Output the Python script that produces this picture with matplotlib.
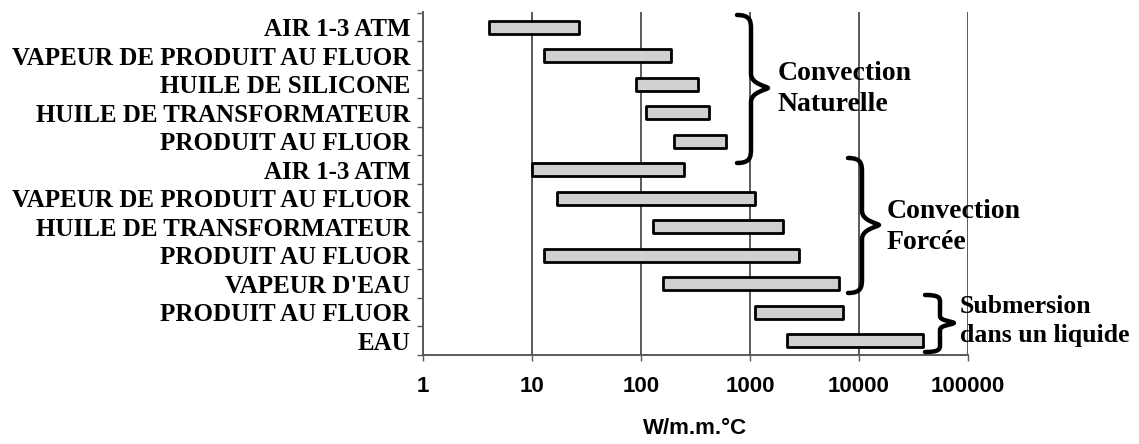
import numpy as np
import matplotlib
matplotlib.use("Agg")
import matplotlib.pyplot as plt
from matplotlib.path import Path
from matplotlib.patches import PathPatch
from matplotlib.transforms import Affine2D

categories = [
    "AIR 1-3 ATM",
    "VAPEUR DE PRODUIT AU FLUOR",
    "HUILE DE SILICONE",
    "HUILE DE TRANSFORMATEUR",
    "PRODUIT AU FLUOR",
    "AIR 1-3 ATM",
    "VAPEUR DE PRODUIT AU FLUOR",
    "HUILE DE TRANSFORMATEUR",
    "PRODUIT AU FLUOR",
    "VAPEUR D'EAU",
    "PRODUIT AU FLUOR",
    "EAU",
]
low_values = [4, 13, 90, 110, 200, 10, 17, 130, 13, 160, 1100, 2200]
high_values = [27, 190, 330, 420, 600, 250, 1100, 2000, 2800, 6500, 7200, 39000]
x_ticks = [1, 10, 100, 1000, 10000, 100000]
x_tick_labels = ["1", "10", "100", "1000", "10000", "100000"]
group_labels = ["Convection\nNaturelle", "Convection\nForcée", "Submersion\ndans un liquide"]
x_label = "W/m.m.°C"

W, H = 1139, 444
fig = plt.figure(figsize=(W / 100, H / 100), dpi=100)
ax = fig.add_axes([423 / W, 1 - 355 / H, (968 - 423) / W, (355 - 12) / H])

y = np.arange(len(categories))
low = np.array(low_values, dtype=float)
high = np.array(high_values, dtype=float)

ax.set_xscale("log")
ax.set_xlim(1, 100000)
ax.set_ylim(11.49, -0.53)

ax.grid(axis="x", color="#5a5a5a", linewidth=1.4, zorder=1)
ax.barh(y, high - low, left=low, height=0.46, color="#d0d0d0",
        edgecolor="black", linewidth=2.0, joinstyle="round", zorder=3)

ax.set_xticks(x_ticks)
ax.set_xticklabels(x_tick_labels, fontfamily="Liberation Sans", fontweight="bold", fontsize=16)
ax.xaxis.set_minor_locator(matplotlib.ticker.NullLocator())
ax.tick_params(axis="x", length=4, width=1, color="#5a5a5a", pad=11)

ax.set_yticks(y)
ax.set_yticklabels(categories, fontfamily="Liberation Serif", fontweight="bold", fontsize=18)
ax.set_yticks(np.arange(-0.5, 11.6, 1.0), minor=True)
ax.tick_params(axis="y", which="major", length=0, pad=9)
ax.tick_params(axis="y", which="minor", length=4, width=1, color="#5a5a5a")

for s in ["top", "right"]:
    ax.spines[s].set_visible(False)
for s in ["left", "bottom"]:
    ax.spines[s].set_color("#5a5a5a")
    ax.spines[s].set_linewidth(1.4)

ax.set_xlabel(x_label, fontfamily="Liberation Sans", fontweight="bold", fontsize=16, labelpad=15)

# pixel transform (y downward)
pix = Affine2D().scale(1 / W, -1 / H).translate(0, 1) + fig.transFigure


def brace(xt, xs, xp, y0, y1, ym):
    r = min(14, (y1 - y0) * 0.12)
    verts = [
        (xt, y0),
        (xs - 1, y0), (xs, y0 + r * 0.4), (xs, y0 + r),
        (xs, ym - r),
        (xs, ym - r * 0.3), (xp - 2, ym - 2), (xp, ym),
        (xp - 2, ym + 2), (xs, ym + r * 0.3), (xs, ym + r),
        (xs, y1 - r),
        (xs, y1 - r * 0.4), (xs - 1, y1), (xt, y1),
    ]
    codes = [Path.MOVETO,
             Path.CURVE4, Path.CURVE4, Path.CURVE4,
             Path.LINETO,
             Path.CURVE4, Path.CURVE4, Path.CURVE4,
             Path.CURVE4, Path.CURVE4, Path.CURVE4,
             Path.LINETO,
             Path.CURVE4, Path.CURVE4, Path.CURVE4]
    p = PathPatch(Path(verts, codes), transform=pix, facecolor="none",
                  edgecolor="black", linewidth=3.2, capstyle="round",
                  joinstyle="round", clip_on=False, zorder=5)
    fig.add_artist(p)


brace(737, 751, 768, 15, 163, 88)
brace(848, 862, 879, 158, 293, 225)
brace(925, 940, 954, 295, 352, 323)

text_pos = [(778, 89), (887, 227), (960, 321)]
text_sizes = [20, 20, 18.5]
for (tx, ty), lab, fs in zip(text_pos, group_labels, text_sizes):
    fig.text(tx / W, 1 - ty / H, lab, fontfamily="Liberation Serif", fontweight="bold",
             fontsize=fs, ha="left", va="center", linespacing=1.3)

fig.savefig("out.png", dpi=100)
